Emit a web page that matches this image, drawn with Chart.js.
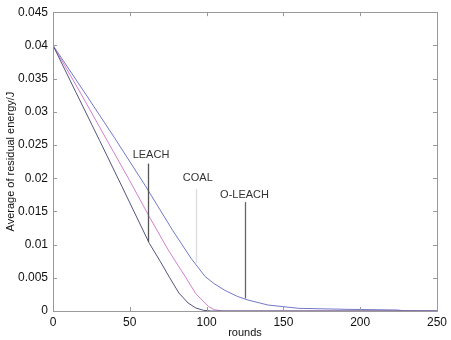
<!DOCTYPE html>
<html>
<head>
<meta charset="utf-8">
<script src="https://cdn.jsdelivr.net/npm/chart.js@4"></script>
<style>
  html, body { margin: 0; padding: 0; background: #fff; }
  #wrap { width: 451px; height: 340px; }
</style>
</head>
<body>
<div id="wrap"><canvas id="energy_chart"></canvas></div>
<script>
// data
const leach_rounds = [0, 15, 30.4, 45, 62.7, 70, 76, 82, 88, 93, 98, 103, 250]
const leach_energy = [0.04, 0.0329, 0.02565, 0.0187, 0.0102, 0.0074, 0.0050, 0.0027, 0.0012, 0.00045, 0.0001, 0, 0]

const coal_rounds = [0, 17, 35.3, 50, 62.7, 75, 86.3, 93, 101.4, 105, 110, 250]
const coal_energy = [0.04, 0.0332, 0.02565, 0.0196, 0.0142, 0.0092, 0.0051, 0.0026, 0.00065, 0.0002, 0, 0]

const oleach_rounds = [0, 20, 40, 60, 78, 90, 99, 105, 112, 120, 127, 140, 160, 192, 224, 228, 250]
const oleach_energy = [0.04, 0.0331, 0.0261, 0.0189, 0.0121, 0.0079, 0.0052, 0.0041, 0.0031, 0.0022, 0.00165, 0.0009, 0.0004, 0.00025, 0.00015, 0.00005, 0]

const x_ticks = [0, 50, 100, 150, 200, 250]
const y_ticks = [0, 0.005, 0.01, 0.015, 0.02, 0.025, 0.03, 0.035, 0.04, 0.045]

// labels with their pointer lines
const note_text = ['LEACH', 'COAL', 'O-LEACH']
const note_pos = [[63.8, 0.02355], [94.3, 0.0200], [124.7, 0.0174]]
const note_lines = [[62, 0.0222, 0.0104], [93.2, 0.0184, 0.0072], [124.7, 0.0164, 0.0019]]
const note_colors = ['#555', '#ddd', '#666']

function toPoints(xs, ys) {
    var pts = []
    for (var i = 0; i < xs.length; i++) {
        pts.push({ x: xs[i], y: ys[i] })
    }
    return pts
}

// frame, inward ticks and text notes
const framePlugin = {
    id: 'frame',
    afterDraw(chart) {
        const ctx = chart.ctx
        const a = chart.chartArea
        const xs = chart.scales.x
        const ys = chart.scales.y
        ctx.save()
        // pointer lines
        for (var i = 0; i < note_lines.length; i++) {
            var l = note_lines[i]
            var px = Math.round(xs.getPixelForValue(l[0])) + 0.5
            ctx.strokeStyle = note_colors[i]
            ctx.lineWidth = 1.3
            ctx.beginPath()
            ctx.moveTo(px, ys.getPixelForValue(l[1]))
            ctx.lineTo(px, ys.getPixelForValue(l[2]))
            ctx.stroke()
        }
        ctx.fillStyle = '#333'
        ctx.font = '11px "Liberation Sans", Arial, sans-serif'
        ctx.textAlign = 'center'
        ctx.textBaseline = 'middle'
        for (var i = 0; i < note_text.length; i++) {
            ctx.fillText(note_text[i], xs.getPixelForValue(note_pos[i][0]), ys.getPixelForValue(note_pos[i][1]))
        }
        // box
        ctx.strokeStyle = '#9a9a9a'
        ctx.lineWidth = 1
        ctx.strokeRect(Math.round(a.left) + 0.5, Math.round(a.top) + 0.5, Math.round(a.right - a.left), Math.round(a.bottom - a.top))
        // inward ticks
        ctx.beginPath()
        x_ticks.forEach(function (t) {
            var px = Math.round(xs.getPixelForValue(t)) + 0.5
            ctx.moveTo(px, a.bottom); ctx.lineTo(px, a.bottom - 4)
            ctx.moveTo(px, a.top); ctx.lineTo(px, a.top + 4)
        })
        y_ticks.forEach(function (t) {
            var py = Math.round(ys.getPixelForValue(t)) + 0.5
            ctx.moveTo(a.left, py); ctx.lineTo(a.left + 4, py)
            ctx.moveTo(a.right, py); ctx.lineTo(a.right - 4, py)
        })
        ctx.stroke()
        ctx.restore()
    }
}

var energy_chart = new Chart(
    document.getElementById('energy_chart').getContext('2d'),
    config = {
        type: 'line',
        data: {
            datasets: [{
                label: 'LEACH',
                borderColor: '#54547e',
                data: toPoints(leach_rounds, leach_energy),
            }, {
                label: 'COAL',
                borderColor: '#d27fcf',
                data: toPoints(coal_rounds, coal_energy),
            }, {
                label: 'O-LEACH',
                borderColor: '#7378c8',
                data: toPoints(oleach_rounds, oleach_energy),
            },
            ]
        },
        options: {
            responsive: true,
            maintainAspectRatio: false,
            animation: false,
            layout: {
                padding: { left: 4, right: 10, top: 11, bottom: 0 }
            },
            elements: {
                point: { radius: 0 },
                line: { borderWidth: 1, tension: 0 }
            },
            plugins: {
                legend: { display: false },
                tooltip: { enabled: false }
            },
            scales: {
                x: {
                    type: 'linear',
                    min: 0,
                    max: 250,
                    grid: { display: false, drawTicks: false },
                    border: { display: false },
                    afterBuildTicks: function (s) { s.ticks = x_ticks.map(function (v) { return { value: v } }) },
                    afterFit: function (s) { s.height = 29 },
                    ticks: {
                        padding: 4,
                        color: '#111',
                        font: { family: '"Liberation Sans", Arial, sans-serif', size: 12 },
                        maxRotation: 0
                    },
                    title: {
                        display: true,
                        text: 'rounds',
                        color: '#111',
                        padding: { top: 0, bottom: 0 },
                        font: { family: '"Liberation Sans", Arial, sans-serif', size: 11 }
                    }
                },
                y: {
                    min: 0,
                    max: 0.045,
                    grid: { display: false, drawTicks: false },
                    border: { display: false },
                    afterBuildTicks: function (s) { s.ticks = y_ticks.map(function (v) { return { value: v } }) },
                    afterFit: function (s) { s.width = 49 },
                    ticks: {
                        padding: 5,
                        color: '#111',
                        font: { family: '"Liberation Sans", Arial, sans-serif', size: 12 },
                        callback: function (v) { return String(Math.round(v * 1000) / 1000) }
                    },
                    title: {
                        display: true,
                        text: 'Average of residual energy/J',
                        color: '#111',
                        padding: { top: 0, bottom: 0 },
                        font: { family: '"Liberation Sans", Arial, sans-serif', size: 11 }
                    }
                }
            },
        },
        plugins: [framePlugin]
    }
);
</script>
</body>
</html>
